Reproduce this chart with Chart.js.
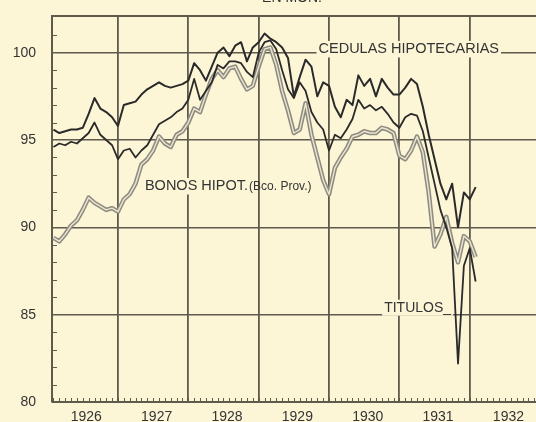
<!DOCTYPE html>
<html>
<head>
<meta charset="utf-8">
<script src="https://cdn.jsdelivr.net/npm/chart.js@4.4.1/dist/chart.umd.min.js"></script>
<style>
  html, body { margin: 0; padding: 0; background: #fcf5d6; }
  canvas { display: block; }
</style>
</head>
<body>
<canvas id="grafico" width="536" height="422"></canvas>
<script>
// meses contados desde enero de 1926 (1 = febrero 1926)
const meses = [1,2,3,4,5,6,7,8,9,10,11,12,
  13,14,15,16,17,18,19,20,21,22,23,24,
  25,26,27,28,29,30,31,32,33,34,35,36,
  37,38,39,40,41,42,43,44,45,46,47,48,
  49,50,51,52,53,54,55,56,57,58,59,60,
  61,62,63,64,65,66,67,68,69,70,71,72,73]

const cedulas = [95.6,95.4,95.5,95.6,95.6,95.7,96.5,97.4,96.8,96.6,96.3,95.8,
  97.0,97.1,97.2,97.6,97.9,98.1,98.3,98.1,98.0,98.1,98.2,98.4,
  99.4,99.0,98.4,99.2,100.0,100.3,99.8,100.4,100.6,99.5,100.3,100.6,
  101.1,100.8,100.6,100.3,99.7,97.5,98.6,99.6,99.2,97.5,98.3,98.1,
  96.9,96.3,97.3,97.0,98.7,98.1,98.5,97.5,98.5,98.0,97.6,97.6,
  98.0,98.5,98.2,96.9,95.3,93.9,92.5,91.6,92.5,90.0,92.0,91.6,92.3]

const titulos = [94.6,94.8,94.7,94.9,94.8,95.1,95.4,96.0,95.3,95.0,94.7,93.9,
  94.4,94.5,94.0,94.4,94.7,95.3,95.9,96.1,96.3,96.6,96.8,97.3,
  98.5,97.3,97.8,98.3,99.3,99.1,99.5,99.5,99.4,98.9,98.6,100.0,
  100.6,100.7,100.2,99.0,97.9,97.4,98.3,97.8,96.6,96.0,95.6,94.4,
  95.3,95.1,95.6,96.2,97.3,96.8,97.0,96.7,96.9,96.5,96.0,95.7,
  96.3,96.5,96.4,95.5,94.0,92.5,91.0,90.0,88.8,82.2,87.8,88.8,86.9]

const bonos = [89.4,89.2,89.6,90.1,90.4,91.0,91.7,91.4,91.2,91.0,91.1,90.9,
  91.6,91.9,92.5,93.6,93.9,94.4,95.2,94.8,94.6,95.3,95.5,96.0,
  96.8,96.6,97.6,98.5,99.0,98.6,99.1,99.2,98.5,97.9,98.1,99.2,
  100.2,100.3,99.3,97.8,96.7,95.4,95.6,97.1,95.3,94.0,92.7,91.9,
  93.4,94.0,94.5,95.2,95.3,95.5,95.4,95.4,95.7,95.6,95.4,94.1,
  93.9,94.4,95.2,94.3,92.0,88.9,89.6,90.6,89.1,88.0,89.5,89.2,88.3]

const anios = ['1926','1927','1928','1929','1930','1931','1932']
const marcasY = [80, 85, 90, 95, 100]

const colorGrid = '#5e5a4c'
const colorTexto = '#343434'
const colorLinea = '#2a2a2a'
const fondo = '#fcf5d6'
const fuente = '"Liberation Sans", Arial, sans-serif'

const puntos = serie => meses.map((m, i) => ({ x: m, y: serie[i] }))

// marco, marcas menores y rótulos
const decoracion = {
  id: 'decoracion',
  beforeDatasetsDraw(chart) {
    const { ctx, chartArea: a, scales } = chart
    ctx.save()
    ctx.strokeStyle = colorGrid
    ctx.lineWidth = 2
    ctx.beginPath()
    ctx.moveTo(a.left, a.top)
    ctx.lineTo(a.right, a.top)
    ctx.moveTo(a.left, a.bottom)
    ctx.lineTo(a.right, a.bottom)
    ctx.stroke()
    ctx.lineWidth = 1
    for (let m = 1; m <= 83; m++) {
      const x = Math.round(scales.x.getPixelForValue(m)) + 0.5
      ctx.beginPath()
      ctx.moveTo(x, a.bottom)
      ctx.lineTo(x, a.bottom - 4)
      ctx.stroke()
    }
    for (let v = 81; v <= 101; v++) {
      if (v % 5 === 0) continue
      const y = Math.round(scales.y.getPixelForValue(v)) + 0.5
      ctx.beginPath()
      ctx.moveTo(a.left, y)
      ctx.lineTo(a.left + 5, y)
      ctx.stroke()
    }
    ctx.restore()
  },
  afterDatasetsDraw(chart) {
    const { ctx, scales } = chart
    const rotulo = (texto, m, v, tam, alin) => {
      ctx.font = tam + 'px ' + fuente
      const w = ctx.measureText(texto).width
      let x = scales.x.getPixelForValue(m)
      const y = scales.y.getPixelForValue(v)
      if (alin === 'center') x -= w / 2
      ctx.fillStyle = fondo
      ctx.fillRect(x - 2, y - tam / 2 - 1, w + 4, tam + 2)
      ctx.fillStyle = colorTexto
      ctx.textBaseline = 'middle'
      ctx.textAlign = 'left'
      ctx.fillText(texto, x, y)
      return x + w
    }
    ctx.save()
    rotulo('CEDULAS HIPOTECARIAS', 61.6, 100.2, 14.5, 'center')
    const fin = rotulo('BONOS HIPOT.', 16.6, 92.35, 14.5, 'left')
    ctx.font = '12px ' + fuente
    ctx.fillStyle = colorTexto
    ctx.textBaseline = 'middle'
    ctx.fillText('(Bco. Prov.)', fin + 1, scales.y.getPixelForValue(92.3))
    rotulo('TITULOS_', 57.4, 85.4, 14, 'left')
    ctx.font = '14px ' + fuente
    ctx.textAlign = 'center'
    ctx.textBaseline = 'alphabetic'
    ctx.fillText('EN MON.', 292, 2)
    ctx.restore()
  }
}

new Chart(document.getElementById('grafico'), {
  type: 'line',
  data: {
    datasets: [
      { label: 'Cédulas hipotecarias', data: puntos(cedulas), borderColor: colorLinea, borderWidth: 2, order: 0 },
      { label: 'Títulos', data: puntos(titulos), borderColor: colorLinea, borderWidth: 1.8, order: 1 },
      { label: 'Bonos hipot. (Bco. Prov.)', data: puntos(bonos), borderColor: '#8e8b83', borderWidth: 4.5, order: 3 },
      { label: 'Bonos (interior)', data: puntos(bonos), borderColor: '#ece6cc', borderWidth: 1.4, order: 2 }
    ]
  },
  options: {
    responsive: false,
    animation: false,
    elements: { point: { radius: 0 }, line: { tension: 0, borderJoinStyle: 'round' } },
    layout: { padding: { top: 16, right: 0, bottom: 0, left: 0 } },
    plugins: { legend: { display: false }, tooltip: { enabled: false } },
    scales: {
      x: {
        type: 'linear',
        position: 'top',
        min: 0.75,
        max: 83.3,
        afterBuildTicks: s => { s.ticks = anios.slice(1).map((a, i) => ({ value: 12 * (i + 1) })) },
        ticks: { display: false },
        grid: { color: colorGrid, lineWidth: 1.8, drawTicks: false },
        border: { display: false },
        afterFit: s => { s.height = 0 }
      },
      x2: {
        type: 'linear',
        position: 'bottom',
        min: 0.75,
        max: 83.3,
        afterBuildTicks: s => { s.ticks = anios.map((a, i) => ({ value: 6.6 + 12 * i })) },
        ticks: {
          callback: (v, i) => anios[i],
          autoSkip: false,
          maxRotation: 0,
          padding: 7,
          color: colorTexto,
          font: { family: fuente, size: 14 }
        },
        grid: { display: false, drawTicks: false },
        border: { display: false },
        afterFit: s => { s.height = 20 }
      },
      y: {
        min: 80,
        max: 102.1,
        afterBuildTicks: s => { s.ticks = marcasY.map(v => ({ value: v })) },
        ticks: { padding: 2, color: colorTexto, font: { family: fuente, size: 14 } },
        grid: { color: colorGrid, lineWidth: 1.6, drawTicks: true, tickLength: 14, tickColor: 'rgba(0,0,0,0)' },
        border: { display: true, color: colorGrid, width: 2 },
        afterFit: s => { s.width = 52 }
      }
    }
  },
  plugins: [decoracion]
})
</script>
</body>
</html>
